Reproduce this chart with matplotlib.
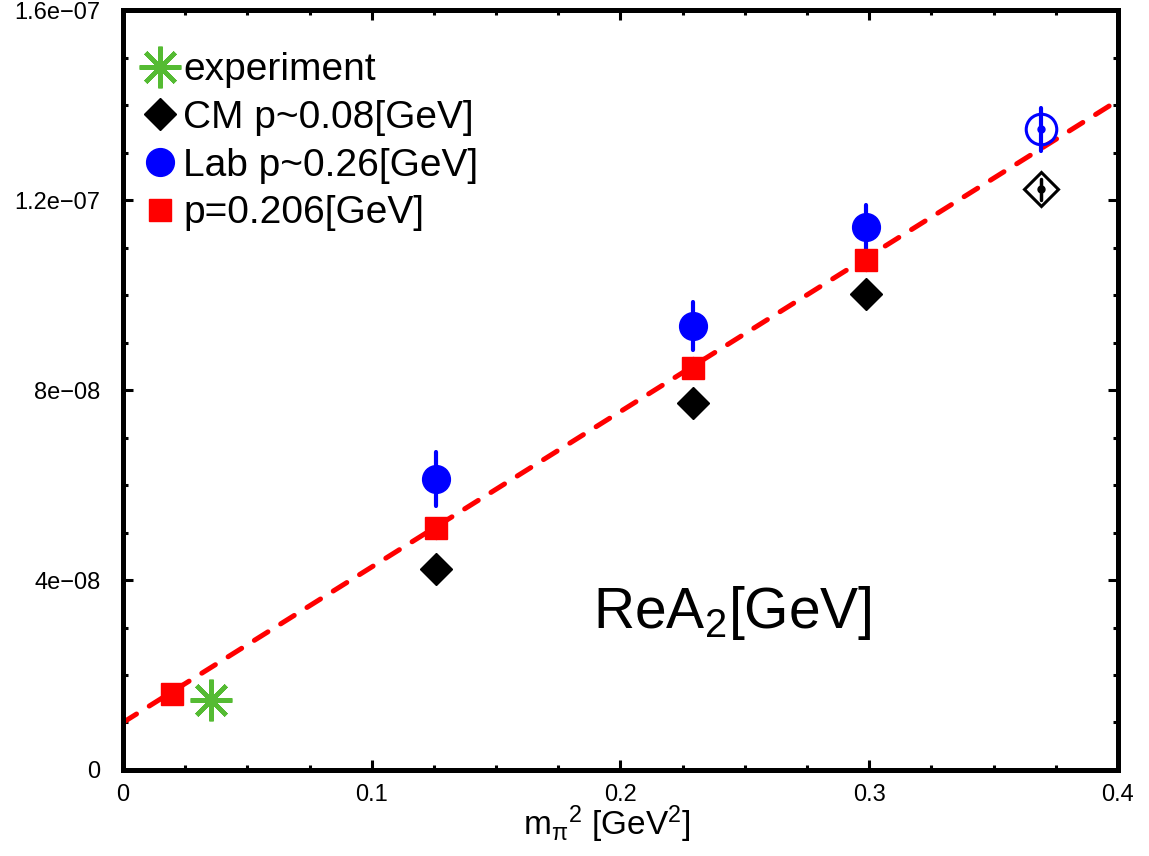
import numpy as np
import matplotlib
matplotlib.use("Agg")
import matplotlib.pyplot as plt
from matplotlib.ticker import FixedLocator, MultipleLocator, FixedFormatter

plt.rcParams['font.family'] = ['Liberation Sans', 'DejaVu Sans']
plt.rcParams['mathtext.fontset'] = 'custom'
plt.rcParams['mathtext.rm'] = 'Liberation Sans'
plt.rcParams['mathtext.it'] = 'Liberation Sans'
plt.rcParams['mathtext.default'] = 'regular'

# datos
exp_x = [0.0354]
exp_y = [1.47e-8]

cm_x = [0.1258, 0.2291, 0.2987]
cm_y = [4.23e-8, 7.73e-8, 10.02e-8]
cm_err = [0.2e-8, 0.2e-8, 0.2e-8]
cm_open_x = [0.369]
cm_open_y = [12.23e-8]
cm_open_err = [0.22e-8]

lab_x = [0.1258, 0.2291, 0.2987]
lab_y = [6.13e-8, 9.35e-8, 11.44e-8]
lab_err = [0.57e-8, 0.50e-8, 0.46e-8]
lab_open_x = [0.369]
lab_open_y = [13.49e-8]
lab_open_err = [0.46e-8]

p_x = [0.0196, 0.1258, 0.2291, 0.2987]
p_y = [1.60e-8, 5.09e-8, 8.47e-8, 10.74e-8]
p_err = [0.2e-8, 0.2e-8, 0.2e-8, 0.2e-8]

fit_x = [0.0, 0.4]
fit_y = [1.0e-8, 1.41e-7]

yticks = [0, 4e-8, 8e-8, 1.2e-7, 1.6e-7]
ytick_labels = ["0", "4e\u221208", "8e\u221208", "1.2e\u221207", "1.6e\u221207"]
xticks = [0, 0.1, 0.2, 0.3, 0.4]
xtick_labels = ["0", "0.1", "0.2", "0.3", "0.4"]

fig = plt.figure(figsize=(11.49, 8.56), dpi=100)
ax = fig.add_axes([0.107, 0.1005, 0.866, 0.8875])

verde = '#55bb33'
rojo = '#ff0000'
azul = '#0000ff'

# linea de ajuste
ajuste, = ax.plot(fit_x, fit_y, color=rojo, lw=3.6, dashes=(3.2, 3),
                  dash_capstyle='round', zorder=2)

# barras de error
def barras(x, y, e, color, lw):
    eb = ax.errorbar(x, y, yerr=e, fmt='none', ecolor=color, elinewidth=lw,
                     capsize=0, zorder=3)
    for c in eb[2]:
        c.set_capstyle('round')

barras(lab_x, lab_y, lab_err, azul, 3)
barras(lab_open_x, lab_open_y, lab_open_err, azul, 3)
barras(cm_x, cm_y, cm_err, 'black', 2.5)
barras(cm_open_x, cm_open_y, cm_open_err, 'black', 2.5)
barras(p_x, p_y, p_err, rojo, 2.5)

h_exp, = ax.plot(exp_x, exp_y, ls='none', marker=(8, 2, 0), ms=30, mew=3.2,
                 color=verde, label='experiment', zorder=4)
h_cm, = ax.plot(cm_x, cm_y, ls='none', marker='D', ms=16, color='black',
                label='CM p~0.08[GeV]', zorder=4)
h_lab, = ax.plot(lab_x, lab_y, ls='none', marker='o', ms=20, color=azul,
                 label='Lab p~0.26[GeV]', zorder=4)
h_p, = ax.plot(p_x, p_y, ls='none', marker='s', ms=16, color=rojo,
               label='p=0.206[GeV]', zorder=4)

# puntos abiertos
ax.plot(cm_open_x, cm_open_y, ls='none', marker='D', ms=17, mfc='none',
        mec='black', mew=2.2, zorder=4)
ax.plot(cm_open_x, cm_open_y, ls='none', marker='o', ms=5, color='black', zorder=5)
ax.plot(lab_open_x, lab_open_y, ls='none', marker='o', ms=22, mfc='none',
        mec=azul, mew=2.2, zorder=4)
ax.plot(lab_open_x, lab_open_y, ls='none', marker='o', ms=5, color=azul, zorder=5)

ax.set_xlim(0, 0.4)
ax.set_ylim(0, 1.6e-7)
ax.xaxis.set_major_locator(FixedLocator(xticks))
ax.xaxis.set_major_formatter(FixedFormatter(xtick_labels))
ax.xaxis.set_minor_locator(MultipleLocator(0.025))
ax.yaxis.set_major_locator(FixedLocator(yticks))
ax.yaxis.set_major_formatter(FixedFormatter(ytick_labels))
ax.yaxis.set_minor_locator(MultipleLocator(1e-8))

ax.tick_params(which='both', direction='in', top=True, right=True,
               labelsize=17, width=2.2)
ax.tick_params(which='major', length=7, pad=10)
ax.tick_params(which='minor', length=3.5)
ax.tick_params(axis='y', pad=16)
for s in ax.spines.values():
    s.set_linewidth(3.6)

ax.set_xlabel(r'm$_{\pi}$$^{2}$ [GeV$^{2}$]', fontsize=24)
ax.xaxis.set_label_coords(0.486, -0.044, transform=ax.transAxes)
ax.xaxis.label.set_va('top')

ax.text(0.189, 3.0e-8, r'ReA$_{2}$[GeV]', fontsize=41, va='baseline')

ax.legend(handles=[h_exp, h_cm, h_lab, h_p], loc='upper left', frameon=False,
          bbox_to_anchor=(0.006, 0.96), fontsize=28, handlelength=1.0,
          handletextpad=0.1, labelspacing=0.3, borderaxespad=0.0,
          borderpad=0.3, markerscale=1.0)

fig.savefig("out.png", dpi=100)
